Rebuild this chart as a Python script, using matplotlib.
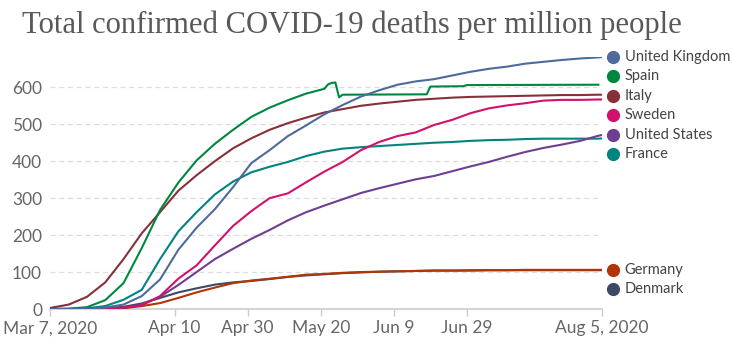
import numpy as np
import pandas as pd
import matplotlib
matplotlib.use("Agg")
import matplotlib.pyplot as plt
import matplotlib.transforms as mtransforms

# days since Mar 7, 2020
start = pd.Timestamp("2020-03-07")
days = list(range(0, 151, 5)) + [151]

# deaths per million, read on the common day grid
uk = [0, 0, 0.5, 4, 12, 35, 80, 160, 220, 270, 330, 395, 430, 468, 497, 527,
      552, 575, 592, 607, 616, 622, 632, 642, 650, 656, 664, 669, 674, 678, 681, 682]
italy = [3, 12, 33, 72, 135, 205, 262, 320, 362, 400, 435, 462, 485, 503, 518, 532,
         541, 550, 556, 561, 566, 569, 572, 574, 575, 576, 577, 578, 579, 579, 580, 580]
sweden = [0, 0, 0.5, 2, 4, 10, 35, 82, 118, 172, 225, 265, 300, 313, 343, 372,
          398, 430, 452, 468, 478, 498, 512, 530, 543, 551, 557, 564, 566, 566, 567, 567]
usa = [0, 0, 0.3, 1, 4, 12, 33, 65, 100, 135, 163, 190, 214, 240, 262, 280,
       297, 314, 327, 339, 351, 360, 373, 386, 398, 412, 425, 436, 445, 455, 469, 471]
france = [0, 0, 2, 8, 25, 52, 135, 210, 262, 310, 345, 370, 385, 398, 414, 426,
          434, 438, 441, 444, 447, 450, 452, 455, 457, 458, 460, 461, 461, 461, 461, 462]
germany = [0, 0, 0.1, 0.5, 2, 8, 16, 30, 45, 58, 70, 77, 82, 87, 93, 95,
           98, 100, 101, 102, 103, 104, 104, 105, 105, 105, 106, 106, 106, 106, 106, 106]
denmark = [0, 0, 0.2, 2, 6, 15, 30, 45, 56, 66, 72, 76, 81, 87, 91, 94,
           97, 99, 101, 102, 103, 104, 104, 104, 105, 105, 105, 105, 105, 105, 105, 105]

# Spain has its own dates because of the late-May revision and June step
spain_days = [0, 5, 10, 15, 20, 25, 30, 35, 40, 45, 50, 55, 60, 65, 70, 75,
              76, 77, 78, 79, 80, 103, 104, 113, 114, 150]
spain = [0, 1, 5, 24, 70, 165, 268, 342, 402, 447, 485, 520, 545, 565, 583, 596,
         608, 612, 613, 573, 580, 581, 602, 603, 606, 607]

countries = ["United Kingdom", "Spain", "Italy", "Sweden", "United States",
             "France", "Germany", "Denmark"]
colors = ["#4c6a9c", "#00873f", "#883039", "#d3106b", "#6d3e91",
          "#00847e", "#b13507", "#3c4a63"]

tick_dates = ["2020-03-07", "2020-04-10", "2020-04-30", "2020-05-20",
              "2020-06-09", "2020-06-29", "2020-08-05"]
tick_labels = ["Mar 7, 2020", "Apr 10", "Apr 30", "May 20", "Jun 9", "Jun 29", "Aug 5, 2020"]
y_ticks = [0, 100, 200, 300, 400, 500, 600]

series = {
    "United Kingdom": (days, uk),
    "Spain": (spain_days, spain),
    "Italy": (days, italy),
    "Sweden": (days, sweden),
    "United States": (days, usa),
    "France": (days, france),
    "Germany": (days, germany),
    "Denmark": (days, denmark),
}

plt.rcParams["font.family"] = ["Lato", "DejaVu Sans"]

fig = plt.figure(figsize=(7.32, 3.44), dpi=100)
ax = fig.add_axes([0.0689, 0.1017, 0.7536, 0.7326])

# draw bottom of the legend list first so the top ones sit above
for name, col in reversed(list(zip(countries, colors))):
    d, v = series[name]
    dates = start + pd.to_timedelta(d, unit="D")
    ax.plot(dates, v, color=col, lw=1.5, solid_joinstyle="round", zorder=3)

ymax = max(uk)
ax.set_xlim(start, pd.Timestamp("2020-08-05"))
ax.set_ylim(0, ymax)

ax.set_yticks(y_ticks)
ax.set_yticklabels([str(t) for t in y_ticks])
for t in y_ticks[1:]:
    ax.axhline(t, color="#dddddd", lw=0.9, ls=(0, (4, 3)), zorder=1)

ax.set_xticks(pd.to_datetime(tick_dates))
ax.set_xticklabels(tick_labels)

for s in ["top", "right", "left"]:
    ax.spines[s].set_visible(False)
ax.spines["bottom"].set_color("#cccccc")
ax.spines["bottom"].set_linewidth(1.2)
ax.tick_params(axis="x", length=5, width=1, color="#cccccc", labelsize=12.5,
               labelcolor="#666666", pad=3)
ax.tick_params(axis="y", length=0, labelsize=12.5, labelcolor="#666666", pad=6)


# end labels: group the ones that would collide, then stack each group
# downward from its highest end value
def label_positions(values, gap):
    order = list(np.argsort(values)[::-1])
    groups = [[i] for i in order]

    def centred(g):
        c = np.mean([values[i] for i in g])
        top = c + gap * (len(g) - 1) / 2
        return top, top - gap * (len(g) - 1)

    merged = True
    while merged:
        merged = False
        for k in range(len(groups) - 1):
            _, low = centred(groups[k])
            high, _ = centred(groups[k + 1])
            if low - high < gap:
                groups[k] = groups[k] + groups[k + 1]
                del groups[k + 1]
                merged = True
                break
    pos = {}
    for g in groups:
        top = max(values[i] for i in g)
        for n, i in enumerate(g):
            pos[i] = top - n * gap
    return [pos[i] for i in range(len(values))]


end_values = [series[n][1][-1] for n in countries]
label_y = label_positions(end_values, 0.077 * ymax)

trans = mtransforms.blended_transform_factory(ax.transAxes, ax.transData)
for name, col, y in zip(countries, colors, label_y):
    ax.plot([1.0205], [y], marker="o", ms=8.5, color=col, transform=trans,
            clip_on=False, zorder=4)
    ax.text(1.041, y, name, transform=trans, va="center", ha="left",
            fontsize=10.5, color="#444444")

fig.text(0.030, 0.904, "Total confirmed COVID-19 deaths per million people",
         family=["Liberation Serif", "DejaVu Serif"], fontsize=22.1,
         color="#595959", va="baseline", ha="left")

fig.savefig("out.png", dpi=100)
